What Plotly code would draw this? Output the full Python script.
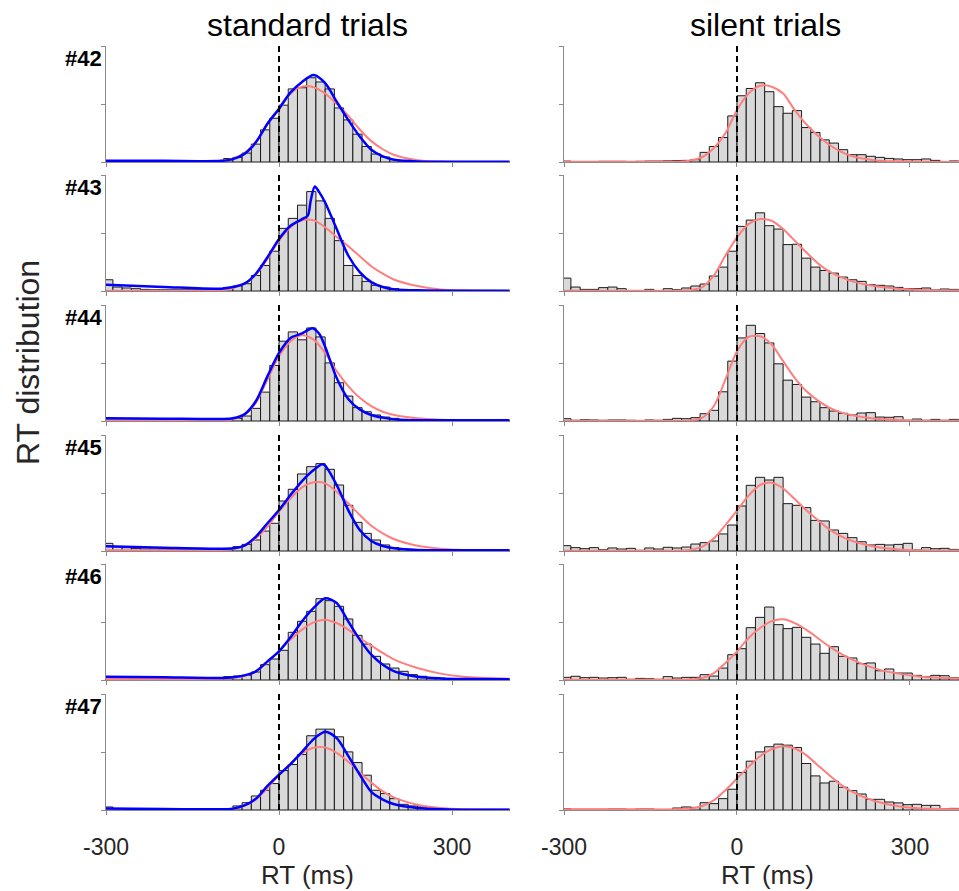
import plotly.graph_objects as go

# ---------------- data ----------------
subjects = ["#42", "#43", "#44", "#45", "#46", "#47"]
column_titles = ["standard trials", "silent trials"]
x_tick_vals = [-300, 0, 300]
x_tick_text = ["-300", "0", "300"]

# histogram bins (ms): 16-ms bins from -304 to 400
bin_edges = list(range(-304, 401, 16))

# bar heights (normalised to panel height), one value per bin
std_42 = [0.003, 0, 0, 0, 0, 0, 0, 0, 0, 0.003, 0.003,
          0.01, 0.006, 0.03, 0.04, 0.077, 0.154, 0.277, 0.377, 0.49, 0.63, 0.64, 0.726, 0.69, 0.63,
          0.466, 0.363, 0.24, 0.134, 0.069, 0.043, 0.02, 0.011, 0.005,
          0, 0, 0, 0, 0, 0, 0, 0, 0, 0]
sil_42 = [0.008, 0.003, 0.003, 0.003, 0.006, 0.006, 0.006, 0.003, 0.006, 0.008, 0.008,
          0.01, 0.012, 0.014, 0.02, 0.083, 0.134, 0.211, 0.397, 0.571, 0.634, 0.683, 0.606, 0.477, 0.42,
          0.443, 0.297, 0.254, 0.191, 0.163, 0.106, 0.063, 0.063, 0.049,
          0.04, 0.031, 0.026, 0.02, 0.02, 0.026, 0.014, 0.003, 0.009, 0.006]
std_43 = [0.097, 0.034, 0.026, 0.02, 0.014, 0.011, 0.011, 0.011, 0.011, 0.011, 0.011,
          0.011, 0.011, 0.031, 0.043, 0.063, 0.134, 0.22, 0.343, 0.54, 0.626, 0.74, 0.857, 0.777, 0.626,
          0.434, 0.22, 0.134, 0.083, 0.049, 0.034, 0.02, 0.014, 0.009,
          0.003, 0, 0, 0, 0, 0, 0, 0, 0, 0]
sil_43 = [0.111, 0.034, 0.014, 0.014, 0.029, 0.034, 0.02, 0.003, 0.003, 0.014, 0.003,
          0.02, 0.011, 0.026, 0.043, 0.06, 0.129, 0.206, 0.343, 0.557, 0.611, 0.674, 0.563, 0.534, 0.4,
          0.403, 0.283, 0.206, 0.177, 0.154, 0.12, 0.097, 0.083, 0.054,
          0.049, 0.043, 0.031, 0.02, 0.02, 0.026, 0.009, 0.017, 0.014, 0.01]
std_44 = [0.009, 0.009, 0.009, 0.009, 0.009, 0.009, 0.009, 0.009, 0.009, 0.009, 0.009,
          0.009, 0.006, 0.014, 0.023, 0.043, 0.109, 0.249, 0.479, 0.688, 0.768, 0.7, 0.802, 0.725, 0.501,
          0.33, 0.215, 0.115, 0.08, 0.052, 0.034, 0.023, 0.014, 0.006,
          0.003, 0.003, 0, 0, 0, 0, 0, 0, 0, 0]
sil_44 = [0.02, 0.006, 0.011, 0.009, 0.006, 0.009, 0.009, 0.006, 0.003, 0.009, 0.006,
          0.014, 0.023, 0.02, 0.029, 0.063, 0.092, 0.252, 0.516, 0.716, 0.825, 0.754, 0.673, 0.493, 0.352,
          0.315, 0.206, 0.166, 0.115, 0.086, 0.066, 0.052, 0.069, 0.072,
          0.034, 0.032, 0.037, 0.006, 0.017, 0.006, 0.014, 0.006, 0.014, 0.006]
std_45 = [0.066, 0.037, 0.029, 0.023, 0.017, 0.017, 0.015, 0.015, 0.015, 0.015, 0.015,
          0.015, 0.015, 0.02, 0.037, 0.057, 0.095, 0.172, 0.239, 0.431, 0.532, 0.664, 0.727, 0.753, 0.704,
          0.569, 0.394, 0.247, 0.152, 0.095, 0.052, 0.029, 0.017, 0.011,
          0.005, 0.005, 0.005, 0.005, 0.005, 0.005, 0.005, 0.005, 0.005, 0.005]
sil_45 = [0.046, 0.029, 0.02, 0.029, 0.011, 0.026, 0.017, 0.023, 0.006, 0.026, 0.017,
          0.032, 0.026, 0.034, 0.06, 0.072, 0.086, 0.147, 0.224, 0.388, 0.566, 0.635, 0.612, 0.635, 0.408,
          0.394, 0.374, 0.264, 0.259, 0.181, 0.152, 0.115, 0.08, 0.052,
          0.057, 0.052, 0.057, 0.066, 0.009, 0.029, 0.02, 0.023, 0.014, 0.01]
std_46 = [0.017, 0.023, 0.026, 0.017, 0.011, 0.011, 0.026, 0.011, 0.011, 0.011, 0.011,
          0.011, 0.02, 0.029, 0.034, 0.04, 0.069, 0.132, 0.181, 0.256, 0.411, 0.506, 0.592, 0.701, 0.684,
          0.635, 0.526, 0.385, 0.31, 0.204, 0.138, 0.103, 0.075, 0.046,
          0.032, 0.02, 0.017, 0.011, 0.008, 0.008, 0.008, 0.008, 0.008, 0.008]
sil_46 = [0.023, 0.032, 0.02, 0.023, 0.017, 0.02, 0.023, 0.006, 0.014, 0.011, 0.006,
          0.029, 0.017, 0.023, 0.023, 0.046, 0.034, 0.103, 0.218, 0.27, 0.451, 0.54, 0.629, 0.477, 0.443,
          0.454, 0.368, 0.31, 0.23, 0.287, 0.204, 0.19, 0.141, 0.147,
          0.08, 0.095, 0.06, 0.06, 0.04, 0.029, 0.04, 0.037, 0.02, 0.015]
std_47 = [0.026, 0.009, 0.009, 0.009, 0.009, 0.009, 0.009, 0.009, 0.009, 0.009, 0.009,
          0.009, 0.009, 0.009, 0.035, 0.063, 0.121, 0.17, 0.228, 0.34, 0.392, 0.478, 0.64, 0.697, 0.697,
          0.631, 0.501, 0.409, 0.3, 0.17, 0.141, 0.098, 0.049, 0.035,
          0.026, 0.014, 0.009, 0.006, 0.006, 0.006, 0.006, 0.006, 0.006, 0.006]
sil_47 = [0.012, 0.006, 0.006, 0.006, 0.006, 0.009, 0.009, 0.003, 0.009, 0.009, 0.003,
          0.003, 0.017, 0.026, 0.023, 0.063, 0.055, 0.098, 0.179, 0.323, 0.421, 0.501, 0.545, 0.568, 0.559,
          0.539, 0.401, 0.294, 0.233, 0.248, 0.196, 0.167, 0.138, 0.092,
          0.092, 0.069, 0.061, 0.046, 0.049, 0.04, 0.04, 0.012, 0.014, 0.008]

# fitted curves (red: single fit, both conditions)
red_x = [-300, -200, -100, -80, -60, -40, -20, 0, 20, 40, 60, 80, 100, 120, 140, 160, 180, 200, 240, 280, 320, 400]
red_std_42 = [0.003, 0.003, 0.01, 0.029, 0.077, 0.177, 0.334, 0.45, 0.59, 0.65, 0.645, 0.59, 0.5, 0.4, 0.28, 0.18, 0.11, 0.06, 0.015, 0.004, 0.0, 0.0]
red_std_43 = [0.003, 0.003, 0.006, 0.026, 0.063, 0.14, 0.277, 0.434, 0.549, 0.61, 0.61, 0.55, 0.465, 0.386, 0.3, 0.214, 0.149, 0.097, 0.043, 0.014, 0.006, 0.0]
red_std_44 = [0.006, 0.006, 0.009, 0.014, 0.052, 0.158, 0.358, 0.559, 0.688, 0.74, 0.702, 0.587, 0.43, 0.301, 0.2, 0.129, 0.08, 0.052, 0.023, 0.011, 0.006, 0.003]
red_std_45 = [0.006, 0.006, 0.009, 0.017, 0.046, 0.109, 0.21, 0.339, 0.454, 0.549, 0.592, 0.583, 0.511, 0.411, 0.31, 0.218, 0.152, 0.101, 0.046, 0.02, 0.009, 0.003]
red_std_46 = [0.009, 0.009, 0.011, 0.017, 0.034, 0.075, 0.155, 0.247, 0.348, 0.434, 0.497, 0.52, 0.491, 0.434, 0.362, 0.296, 0.233, 0.175, 0.103, 0.055, 0.029, 0.011]
red_std_47 = [0.003, 0.003, 0.006, 0.012, 0.035, 0.092, 0.19, 0.3, 0.401, 0.487, 0.536, 0.539, 0.493, 0.415, 0.323, 0.236, 0.161, 0.107, 0.046, 0.017, 0.006, 0.003]
red_sil_42 = [0.003, 0.003, 0.003, 0.014, 0.043, 0.12, 0.249, 0.449, 0.59, 0.657, 0.649, 0.59, 0.449, 0.326, 0.229, 0.149, 0.089, 0.049, 0.014, 0.006, 0.003, 0.0]
red_sil_43 = [0.003, 0.003, 0.003, 0.009, 0.034, 0.134, 0.306, 0.463, 0.577, 0.62, 0.606, 0.534, 0.434, 0.334, 0.24, 0.169, 0.12, 0.083, 0.04, 0.02, 0.009, 0.003]
red_sil_44 = [0.003, 0.003, 0.003, 0.006, 0.029, 0.129, 0.358, 0.602, 0.725, 0.731, 0.659, 0.516, 0.372, 0.258, 0.178, 0.115, 0.074, 0.049, 0.02, 0.009, 0.003, 0.003]
red_sil_45 = [0.003, 0.003, 0.003, 0.011, 0.037, 0.109, 0.224, 0.348, 0.477, 0.569, 0.589, 0.539, 0.448, 0.353, 0.267, 0.187, 0.129, 0.086, 0.037, 0.014, 0.006, 0.003]
red_sil_46 = [0.003, 0.003, 0.003, 0.006, 0.017, 0.06, 0.147, 0.247, 0.362, 0.448, 0.506, 0.523, 0.491, 0.434, 0.362, 0.29, 0.227, 0.175, 0.098, 0.055, 0.029, 0.011]
red_sil_47 = [0.006, 0.006, 0.006, 0.012, 0.035, 0.084, 0.17, 0.271, 0.372, 0.464, 0.524, 0.55, 0.53, 0.473, 0.386, 0.3, 0.219, 0.156, 0.075, 0.032, 0.012, 0.006]

# blue: mixture fit, standard trials only
blue_x_42 = [-300, -200, -100, -80, -60, -40, -20, 0, 20, 40, 60, 80, 100, 120, 140, 160, 180, 200, 240, 280, 320, 400]
blue_std_42 = [0.011, 0.01, 0.01, 0.025, 0.07, 0.17, 0.33, 0.46, 0.6, 0.69, 0.75, 0.68, 0.52, 0.363, 0.22, 0.106, 0.049, 0.02, 0.005, 0.003, 0.003, 0.003]
blue_x_43 = [-300, -200, -100, -80, -60, -40, -20, 0, 20, 40, 50, 55, 62, 70, 80, 90, 100, 120, 140, 160, 180, 200, 240, 300, 400]
blue_std_43 = [0.054, 0.035, 0.02, 0.034, 0.063, 0.149, 0.291, 0.449, 0.563, 0.62, 0.65, 0.78, 0.9, 0.85, 0.763, 0.65, 0.534, 0.306, 0.163, 0.077, 0.034, 0.014, 0.006, 0.003, 0.003]
blue_x_44 = [-300, -200, -100, -80, -60, -40, -20, 0, 20, 40, 58, 70, 80, 100, 120, 140, 160, 180, 200, 240, 300, 400]
blue_std_44 = [0.023, 0.02, 0.017, 0.023, 0.057, 0.172, 0.387, 0.587, 0.716, 0.755, 0.8, 0.75, 0.64, 0.37, 0.19, 0.1, 0.052, 0.029, 0.014, 0.006, 0.006, 0.006]
blue_x_45 = [-300, -200, -100, -80, -60, -40, -20, 0, 20, 40, 60, 75, 80, 100, 120, 140, 160, 180, 200, 240, 300, 400]
blue_std_45 = [0.04, 0.029, 0.02, 0.023, 0.046, 0.124, 0.239, 0.353, 0.483, 0.603, 0.698, 0.747, 0.736, 0.569, 0.353, 0.181, 0.086, 0.043, 0.023, 0.009, 0.006, 0.006]
blue_x_46 = [-300, -200, -100, -80, -60, -40, -20, 0, 20, 40, 60, 80, 100, 120, 140, 160, 180, 200, 240, 280, 320, 400]
blue_std_46 = [0.029, 0.023, 0.017, 0.023, 0.04, 0.075, 0.161, 0.247, 0.368, 0.506, 0.621, 0.705, 0.664, 0.506, 0.348, 0.218, 0.132, 0.075, 0.029, 0.014, 0.009, 0.006]
blue_x_47 = [-300, -200, -100, -80, -60, -40, -20, 0, 20, 40, 60, 80, 100, 120, 140, 160, 180, 200, 240, 280, 320, 400]
blue_std_47 = [0.012, 0.009, 0.006, 0.012, 0.04, 0.098, 0.207, 0.305, 0.395, 0.501, 0.611, 0.674, 0.62, 0.467, 0.305, 0.156, 0.09, 0.049, 0.017, 0.006, 0.003, 0.003]

std_hists = [std_42, std_43, std_44, std_45, std_46, std_47]
sil_hists = [sil_42, sil_43, sil_44, sil_45, sil_46, sil_47]
red_std = [red_std_42, red_std_43, red_std_44, red_std_45, red_std_46, red_std_47]
red_sil = [red_sil_42, red_sil_43, red_sil_44, red_sil_45, red_sil_46, red_sil_47]
blue_xs = [blue_x_42, blue_x_43, blue_x_44, blue_x_45, blue_x_46, blue_x_47]
blue_std = [blue_std_42, blue_std_43, blue_std_44, blue_std_45, blue_std_46, blue_std_47]

# ---------------- layout constants ----------------
W, H = 959, 891
row_tops = [46, 175, 305, 435, 564, 694]
panel_h = 116
col_px = [(106, 509.7), (564, 959)]
col_ranges = [[-300, 400], [-300, 385]]
AX_COLOR = "#8a8a8a"
TXT = "#262626"
FONT = "Liberation Sans, Arial, sans-serif"

bin_centers = [(a + b) / 2 for a, b in zip(bin_edges[:-1], bin_edges[1:])]
bin_width = bin_edges[1] - bin_edges[0]

fig = go.Figure()
layout = {}
shapes = []
annotations = []

for r in range(6):
    for c in range(2):
        n = r * 2 + c + 1
        xa = "x" if n == 1 else f"x{n}"
        ya = "y" if n == 1 else f"y{n}"
        hist = std_hists[r] if c == 0 else sil_hists[r]
        fig.add_trace(go.Bar(
            x=bin_centers, y=hist, width=bin_width,
            marker=dict(color="#d9d9d9", line=dict(color="#1a1a1a", width=1)),
            xaxis=xa, yaxis=ya, showlegend=False, hoverinfo="skip"))
        fig.add_trace(go.Scatter(
            x=red_x, y=red_std[r] if c == 0 else red_sil[r], mode="lines",
            line=dict(color="#ff7f7f", width=2, shape="spline", smoothing=0.8),
            xaxis=xa, yaxis=ya, showlegend=False, hoverinfo="skip"))
        if c == 0:
            fig.add_trace(go.Scatter(
                x=blue_xs[r], y=blue_std[r], mode="lines",
                line=dict(color="#0000ff", width=2.5, shape="spline", smoothing=0.8),
                xaxis=xa, yaxis=ya, showlegend=False, hoverinfo="skip"))

        x0, x1 = col_px[c]
        top = row_tops[r]
        layout["xaxis" if n == 1 else f"xaxis{n}"] = dict(
            domain=[x0 / W, min(x1 / W, 1.0)], range=col_ranges[c], anchor=ya,
            tickmode="array", tickvals=x_tick_vals, ticktext=x_tick_text,
            showticklabels=(r == 5), ticks="outside", ticklen=4, tickcolor=AX_COLOR,
            showline=True, linecolor=AX_COLOR, linewidth=1,
            showgrid=False, zeroline=False, automargin=False,
            tickfont=dict(size=23, color=TXT, family=FONT), ticklabelstandoff=12)
        layout["yaxis" if n == 1 else f"yaxis{n}"] = dict(
            domain=[1 - (top + panel_h) / H, 1 - top / H], range=[0, 1], anchor=xa,
            tickmode="array", tickvals=[0, 0.5, 1], showticklabels=False,
            ticks="outside", ticklen=4, tickcolor=AX_COLOR,
            showline=True, linecolor=AX_COLOR, linewidth=1,
            showgrid=False, zeroline=False, automargin=False)
        shapes.append(dict(type="line", xref=xa, yref=f"{ya} domain",
                           x0=0, x1=0, y0=0, y1=1, layer="above",
                           line=dict(color="black", width=2, dash="6px,4px")))
        if c == 0:
            annotations.append(dict(text=f"<b>{subjects[r]}</b>", xref="paper", yref="paper",
                                    x=104 / W, y=1 - (top + 12) / H, xanchor="right", yanchor="middle",
                                    showarrow=False, font=dict(size=22, color="black", family=FONT)))

for c, title in enumerate(column_titles):
    cx = [307.5, 765][c]
    annotations.append(dict(text=title, xref="paper", yref="paper", x=cx / W, y=1 - 25 / H,
                            xanchor="center", yanchor="middle", showarrow=False,
                            font=dict(size=32, color="black", family=FONT)))
    annotations.append(dict(text="RT (ms)", xref="paper", yref="paper", x=[307.5, 767][c] / W,
                            y=1 - 875 / H, xanchor="center", yanchor="middle", showarrow=False,
                            font=dict(size=26, color=TXT, family=FONT)))

annotations.append(dict(text="RT distribution", xref="paper", yref="paper", x=28 / W, y=1 - 363 / H,
                        xanchor="center", yanchor="middle", textangle=-90, showarrow=False,
                        font=dict(size=32, color=TXT, family=FONT)))

fig.update_layout(width=W, height=H,
                  margin=dict(l=0, r=0, t=0, b=0, pad=0, autoexpand=False),
                  paper_bgcolor="white", plot_bgcolor="white",
                  shapes=shapes, annotations=annotations, barmode="overlay",
                  font=dict(family=FONT), **layout)

fig.write_html("out.html",
               config={"displayModeBar": False},
               post_script="document.body.style.margin='0';document.body.style.padding='0';"
                           "document.body.style.overflow='hidden';")
